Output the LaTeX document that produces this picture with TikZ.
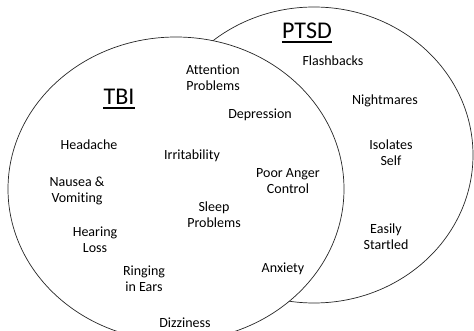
\documentclass[tikz,border=0pt]{standalone}
\usepackage{fontspec}
\setmainfont{Carlito}[Ligatures={NoCommon,NoDiscretionary,NoContextual}]
\begin{document}
\begin{tikzpicture}[x=1pt,y=-1pt,
  lbl/.style={align=center,inner sep=0pt,font=\fontsize{14}{16}\selectfont},
  ttl/.style={inner sep=0pt,anchor=base,font=\fontsize{24}{28}\selectfont},
  ring/.style={draw=black!85,line width=0.7pt},
  uline/.style={line width=2.6pt}]
\useasboundingbox (0,0) rectangle (474,331);
\clip (0,0) rectangle (474,331);
% PTSD ellipse (behind)
\draw[ring,fill=white] (314,155) ellipse [x radius=159pt, y radius=148pt];
% TBI ellipse (front, white fill)
\draw[ring,fill=white] (176,189) ellipse [x radius=168pt, y radius=152pt];
% titles
\node[ttl] (tbi) at (119,105) {TBI};
\draw[uline] ([yshift=-3pt]tbi.base west) -- ([yshift=-3pt]tbi.base east);
\node[ttl] (ptsd) at (307,39) {PTSD};
\draw[uline] ([yshift=-3pt]ptsd.base west) -- ([yshift=-3pt]ptsd.base east);
% TBI labels
\node[lbl] (attn) at (213,78) {Attention\\Problems};
\node[lbl] (depr) at (260,115) {Depression};
\node[lbl] (head) at (89,145) {Headache};
\node[lbl] (irr) at (192,156) {Irritability};
\node[lbl] (naus) at (77,191) {Nausea \&\\Vomiting};
\node[lbl] (anger) at (288,181) {Poor Anger\\Control};
\node[lbl] (sleep) at (214,215) {Sleep\\Problems};
\node[lbl] (hear) at (95,240) {Hearing\\Loss};
\node[lbl] (ring) at (144,279) {Ringing\\in Ears};
\node[lbl] (anx) at (283,269) {Anxiety};
\node[lbl] (dizz) at (185,323) {Dizziness};
% PTSD labels
\node[lbl] (flash) at (333,61) {Flashbacks};
\node[lbl] (night) at (385,101) {Nightmares};
\node[lbl] (iso) at (391,153) {Isolates\\Self};
\node[lbl] (easy) at (386,237) {Easily\\Startled};
\end{tikzpicture}
\end{document}
